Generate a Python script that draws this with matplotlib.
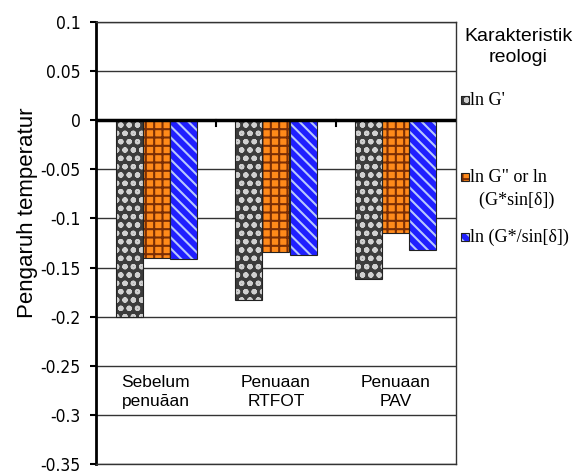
import numpy as np
import matplotlib.pyplot as plt
from matplotlib.patches import Rectangle

# data
kategori = ['Sebelum\npenuāan', 'Penuaan\nRTFOT', 'Penuaan\nPAV']
ln_g1 = [-0.200, -0.183, -0.162]
ln_g2 = [-0.140, -0.134, -0.115]
ln_gs = [-0.141, -0.137, -0.132]
seri = ["ln G'", 'ln G" or ln\n  (G*sin[δ])', 'ln (G*/sin[δ])']
yticks = [0.1, 0.05, 0, -0.05, -0.1, -0.15, -0.2, -0.25, -0.3, -0.35]

plt.rcParams['hatch.linewidth'] = 1.5

# gaya tiap seri: warna isi, warna hatch, pola
gaya = [('#3c3c3c', '#d0d0d0', 'oo'),
        ('#ff8a1a', '#7a2e05', '++'),
        ('#1f1fff', '#b8c8ff', '\\\\\\')]

W, H = 574, 474
fig = plt.figure(figsize=(W / 100, H / 100), dpi=100)
ax = fig.add_axes([96 / W, 1 - 464 / H, 360 / W, 442 / H])

x = np.arange(len(kategori)) + 0.5
lebar = 0.225
for i, vals in enumerate([ln_g1, ln_g2, ln_gs]):
    fc, hc, hatch = gaya[i]
    pos = x + (i - 1) * lebar
    ax.bar(pos, vals, lebar, color=fc, edgecolor=hc, hatch=hatch, linewidth=0, zorder=3)
    ax.bar(pos, vals, lebar, fill=False, edgecolor='#222222', linewidth=0.8, zorder=4)

ax.set_xlim(0, 3)
ax.set_ylim(-0.35, 0.1)
ax.set_yticks(yticks)
ax.set_yticklabels(['%g' % t for t in yticks], family='DejaVu Sans', fontstretch='condensed',
                   fontsize=12.5)
ax.tick_params(axis='y', direction='out', length=4, width=1.5, pad=7)
ax.set_xticks([])
ax.grid(axis='y', color='#333333', linewidth=1, zorder=0)
for s in ['top', 'right', 'bottom']:
    ax.spines[s].set_linewidth(1)
    ax.spines[s].set_color('#333333')
ax.spines['left'].set_linewidth(2)
ax.axhline(0, color='black', linewidth=2.5, zorder=5)
for k in [1, 2]:
    ax.plot([k, k], [0, -0.006], color='black', linewidth=1.5, zorder=5)

for xi, lab in zip(x, kategori):
    ax.text(xi, -0.2765, lab, ha='center', va='center', fontsize=12.5,
            family='Liberation Sans', linespacing=1.35)

ax.set_ylabel('Pengaruh temperatur', fontsize=16, family='Liberation Sans')
ax.yaxis.set_label_coords(-0.16, 0.568)

# legenda manual di sisi kanan
fig.text(518 / W, 1 - 47 / H, 'Karakteristik\nreologi', ha='center', va='center',
         fontsize=14, family='Liberation Sans', linespacing=1.3)
ypos = [100, 177, 237]
for (fc, hc, hatch), lab, yp in zip(gaya, seri, ypos):
    fig.add_artist(Rectangle((461 / W, 1 - (yp + 4) / H), 8 / W, 8 / H,
                             transform=fig.transFigure, facecolor=fc, edgecolor=hc,
                             hatch=hatch, linewidth=0))
    fig.add_artist(Rectangle((461 / W, 1 - (yp + 4) / H), 8 / W, 8 / H,
                             transform=fig.transFigure, fill=False, edgecolor='#222222',
                             linewidth=0.8))
    fig.text(470 / W, 1 - (yp - 8) / H, lab, ha='left', va='top', fontsize=13,
             family='Liberation Serif', linespacing=1.45)

fig.savefig('out.png', dpi=100)
